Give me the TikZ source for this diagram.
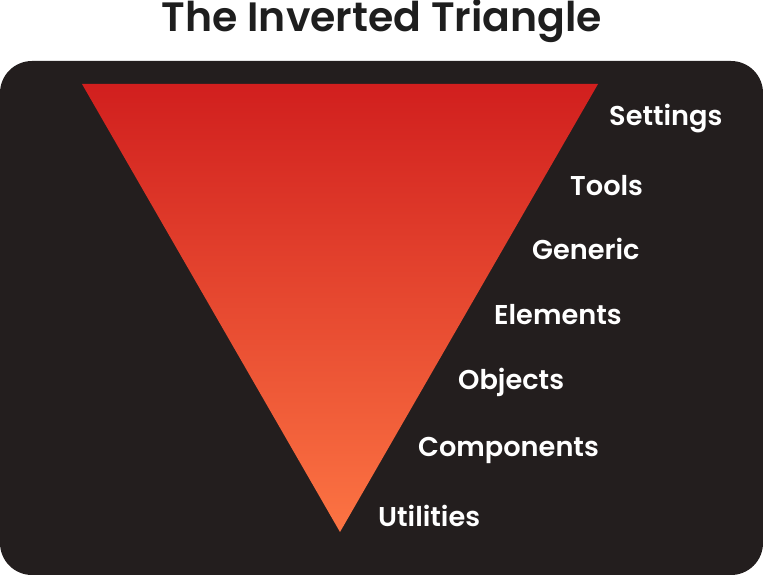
\documentclass[tikz,border=0pt]{standalone}
\usepackage{fontspec}
\setmainfont{Poppins SemiBold}
\definecolor{panel}{HTML}{231E1E}
\definecolor{triTop}{HTML}{D11F1E}
\definecolor{triBot}{HTML}{FC7443}
\definecolor{titleInk}{HTML}{1E1E1E}
\begin{document}
\begin{tikzpicture}[x=1pt,y=-1pt,
  layer/.style={anchor=base west,text=white,font=\fontsize{27.2}{28}\selectfont,inner sep=0pt},
  heading/.style={anchor=base,text=titleInk,font=\fontsize{41}{41}\selectfont,inner sep=0pt}]
\useasboundingbox (0,0) rectangle (763,575);
% dark panel
\fill[panel,rounded corners=32pt] (0,61) rectangle (763,575);
% gradient triangle
\shade[top color=triTop,bottom color=triBot] (82,84) -- (598,84) -- (340,532) -- cycle;
% title
\node[heading] (title) at (382,32) {The Inverted Triangle};
% layer labels
\node[layer] (settings)   at (609,126) {Settings};
\node[layer] (tools)      at (570,195) {Tools};
\node[layer] (generic)    at (532,259) {Generic};
\node[layer] (elements)   at (494,324) {Elements};
\node[layer] (objects)    at (458,389) {Objects};
\node[layer] (components) at (418,456) {Components};
\node[layer] (utilities)  at (378,526) {Utilities};
\end{tikzpicture}
\end{document}
